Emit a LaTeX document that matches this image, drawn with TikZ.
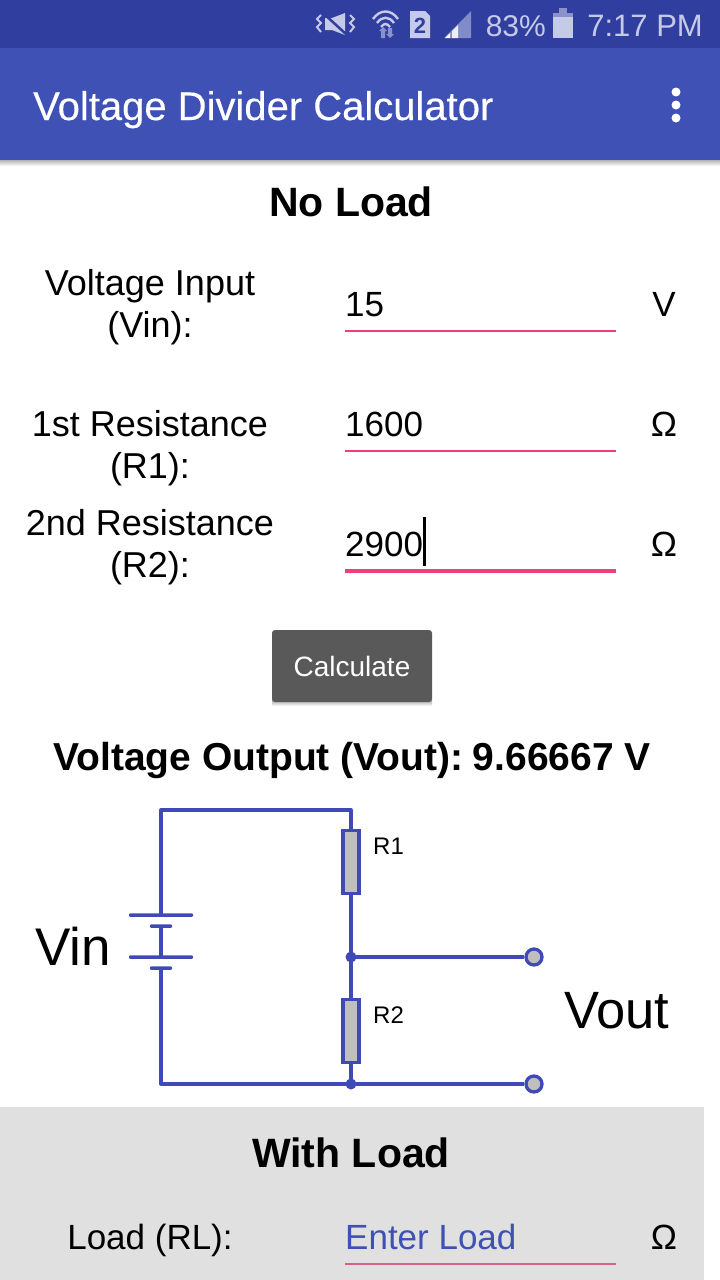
\documentclass[tikz,border=0pt]{standalone}
\usepackage{fontspec}
\setmainfont{Liberation Sans}
\newfontfamily\mediumfont[FakeBold=0.35]{Liberation Sans}
\usepackage{xcolor}
\definecolor{statusblue}{HTML}{303F9F}
\definecolor{barblue}{HTML}{3F51B5}
\definecolor{statuslight}{HTML}{C5CAE9}
\definecolor{wireblue}{HTML}{3F4AB8}
\definecolor{pinkline}{HTML}{EC407A}
\definecolor{loadline}{HTML}{D9608A}
\newcommand{\sizedfont}[1]{\fontsize{#1}{#1}\selectfont}
\newcommand{\drawinput}[5]{
	\node[entry] (#1val) at (345, #2) {#3};
	\node[entry, anchor=base] (#1unit) at (664, #2) {#4};
	\coordinate (#1a) at (345, #2+15);
	\coordinate (#1b) at (616, #2+15);
	\draw[#5] (#1a) -- (#1b);
}

\begin{document}
\begin{tikzpicture}[x=1pt, y=-1pt,
		entry/.style={anchor=base west, inner sep=0pt, font=\sizedfont{35}},
		caption/.style={align=center, inner sep=0pt, font=\fontsize{36}{41.5}\selectfont},
		heading/.style={anchor=base, inner sep=0pt, font=\bfseries\sizedfont{41}},
		wire/.style={color=wireblue, line width=3.3pt, line join=round},
		plate/.style={fill=wireblue, inner sep=0pt, rounded corners=1pt, minimum height=3.5pt},
		resistor/.style={draw=wireblue, fill=black!25, line width=3.3pt, inner sep=0pt, minimum width=16pt, minimum height=63pt},
		junction/.style={circle, fill=wireblue, inner sep=0pt, minimum size=11pt},
		terminal/.style={circle, draw=wireblue, fill=black!25, line width=3.3pt, inner sep=0pt, minimum size=16pt},
		icon/.style={fill=statuslight}]
		\useasboundingbox (0, 0) rectangle (720, 1280);
		% bars
		\fill[white] (0, 0) rectangle (720, 1280);
		\shade[top color=black!30, bottom color=white] (0, 160) rectangle (720, 166);
		\fill[barblue] (0, 48) rectangle (720, 160);
		\fill[statusblue] (0, 0) rectangle (720, 48);
		% status icons
		\draw[statuslight, line width=2pt] (321, 15) -- (317, 19) -- (321, 23) -- (317, 27) -- (321, 32);
		\draw[statuslight, line width=2pt] (350, 15) -- (354, 19) -- (350, 23) -- (354, 27) -- (350, 32);
		\fill[icon] (325, 18) -- (332, 18) -- (345, 13) -- (345, 35) -- (332, 30) -- (325, 30) -- cycle;
		\draw[statusblue, line width=2.5pt] (323, 13) -- (347, 35);
		\draw[statuslight, line width=2.4pt] (373, 19) .. controls (380, 9) and (391, 9) .. (398, 19);
		\draw[statuslight, line width=2.4pt] (377, 23) .. controls (382, 16) and (389, 16) .. (394, 23);
		\draw[statuslight, line width=2.4pt] (381, 27) .. controls (384, 23) and (387, 23) .. (390, 27);
		\fill[statuslight, opacity=0.6] (379, 31) -- (383, 27) -- (387, 31) -- (385, 31) -- (385, 38) -- (381, 38) -- (381, 31) -- cycle;
		\fill[statuslight, opacity=0.6] (386, 34) -- (390, 38) -- (394, 34) -- (392, 34) -- (392, 28) -- (388, 28) -- (388, 34) -- cycle;
		\fill[icon] (410, 11) -- (425, 11) -- (430, 16) -- (430, 38) -- (410, 38) -- cycle;
		\node[anchor=base, inner sep=0pt, text=statusblue, font=\bfseries\sizedfont{22}] (simtwo) at (420, 33) {2};
		\fill[statuslight, opacity=0.55] (444, 38) -- (471, 11) -- (471, 38) -- cycle;
		\fill[white] (445, 38) -- (450, 33) -- (450, 38) -- cycle;
		\fill[white, opacity=0.85] (452, 31) -- (452, 38) -- (458, 38) -- (458, 25) -- cycle;
		\node[anchor=base east, inner sep=0pt, text=statuslight, font=\sizedfont{30}] (battlevel) at (546, 36) {83\%};
		\fill[statuslight, opacity=0.6] (559, 8) rectangle (567, 13);
		\fill[statuslight, opacity=0.6] (553, 13) rectangle (573, 17);
		\fill[icon] (553, 17) rectangle (573, 38);
		\node[anchor=base east, inner sep=0pt, text=statuslight, font=\sizedfont{31}] (clock) at (703, 36) {7:17 PM};
		% title
		\node[anchor=base west, inner sep=0pt, text=white, font=\mediumfont\sizedfont{40}] (title) at (33, 120) {Voltage Divider Calculator};
		\fill[white] (676, 92) circle (4.5);
		\fill[white] (676, 105) circle (4.5);
		\fill[white] (676, 118) circle (4.5);
		% no load inputs
		\node[heading] (noload) at (351, 216) {No Load};
		\node[caption] (vinlabel) at (150, 307) {Voltage Input\\(Vin):};
		\node[caption] (ronelabel) at (150, 448) {1st Resistance\\(R1):};
		\node[caption] (rtwolabel) at (150, 547) {2nd Resistance\\(R2):};
		\drawinput{vin}{316}{15}{V}{pinkline, line width=2pt}
		\drawinput{rone}{436}{1600}{Ω}{pinkline, line width=2pt}
		\drawinput{rtwo}{556}{2900}{Ω}{pinkline, line width=4pt}
		\fill[black] (423, 517) rectangle (425.5, 566);
		% button
		\shade[top color=black!35, bottom color=white] (272, 700) rectangle (432, 706);
		\node[fill=black!65!white, rounded corners=3pt, minimum width=160pt, minimum height=72pt, inner sep=0pt, text=white, font=\sizedfont{28}] (calc) at (352, 666) {Calculate};
		\node[heading, font=\bfseries\sizedfont{39}] (vout) at (352, 770) {Voltage Output (Vout):\hspace{-5pt} 9.66667 V};
		% circuit
		\coordinate (topleft) at (161, 810);
		\coordinate (topright) at (351, 810);
		\coordinate (botleft) at (161, 1084);
		\node[resistor] (rone) at (351, 862) {};
		\node[resistor] (rtwo) at (351, 1031) {};
		\node[junction] (jtop) at (351, 957) {};
		\node[junction] (jbot) at (351, 1084) {};
		\node[terminal] (ttop) at (534, 957) {};
		\node[terminal] (tbot) at (534, 1084) {};
		\node[plate, minimum width=64pt] (plateA) at (161, 915) {};
		\node[plate, minimum width=22pt] (plateB) at (161, 926) {};
		\node[plate, minimum width=64pt] (plateC) at (161, 957) {};
		\node[plate, minimum width=22pt] (plateD) at (161, 968) {};
		\draw[wire] (plateA.center) -- (topleft) -- (topright) -- (rone.north);
		\draw[wire] (plateB.center) -- (plateC.center);
		\draw[wire] (plateD.center) -- (botleft) -- (jbot.center) -- (rtwo.south);
		\draw[wire] (rone.south) -- (jtop.center) -- (rtwo.north);
		\draw[wire] (jtop.center) -- (ttop.west);
		\draw[wire] (jbot.center) -- (tbot.west);
		\node[anchor=base west, inner sep=0pt, font=\sizedfont{24}] (ronetag) at (373, 854) {R1};
		\node[anchor=base west, inner sep=0pt, font=\sizedfont{24}] (rtwotag) at (373, 1023) {R2};
		\node[anchor=base west, inner sep=0pt, font=\sizedfont{53}] (vintag) at (35, 965) {Vin};
		\node[anchor=base west, inner sep=0pt, font=\sizedfont{52.5}] (vouttag) at (564, 1028) {Vout};
		% with load panel
		\fill[black!12] (0, 1107) rectangle (704, 1280);
		\node[heading] (withload) at (351, 1167) {With Load};
		\node[entry, anchor=base] (loadlabel) at (150, 1249) {Load (RL):};
		\node[entry, text=barblue] (loadval) at (345, 1249) {Enter Load};
		\node[entry, anchor=base] (loadunit) at (664, 1249) {Ω};
		\coordinate (loada) at (345, 1264);
		\coordinate (loadb) at (616, 1264);
		\draw[loadline, line width=2pt] (loada) -- (loadb);
	\end{tikzpicture}
\end{document}
